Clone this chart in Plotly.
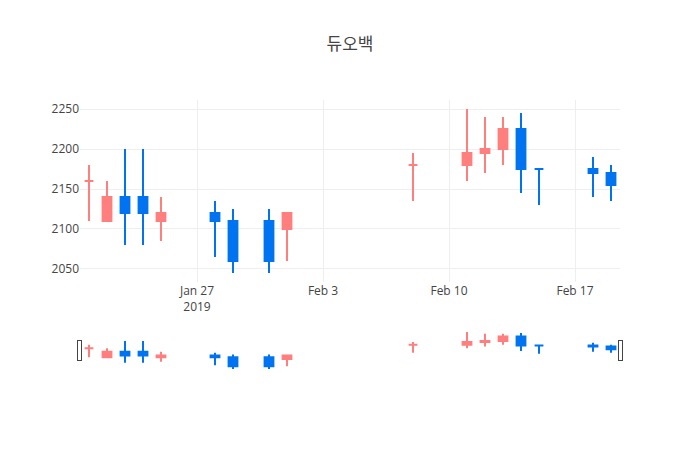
import plotly.graph_objects as go

dates = ["2019-01-21", "2019-01-22", "2019-01-23", "2019-01-24", "2019-01-25",
         "2019-01-28", "2019-01-29", "2019-01-31", "2019-02-01",
         "2019-02-08", "2019-02-11", "2019-02-12", "2019-02-13", "2019-02-14",
         "2019-02-15", "2019-02-18", "2019-02-19"]
open_ = [2160, 2110, 2140, 2140, 2110, 2120, 2110, 2110, 2100,
         2180, 2180, 2195, 2200, 2225, 2175, 2175, 2170]
high = [2180, 2160, 2200, 2200, 2140, 2135, 2125, 2125, 2120,
        2195, 2250, 2240, 2240, 2245, 2175, 2190, 2180]
low = [2110, 2110, 2080, 2080, 2085, 2065, 2045, 2045, 2060,
       2135, 2160, 2170, 2180, 2145, 2130, 2140, 2135]
close = [2160, 2140, 2120, 2120, 2120, 2110, 2060, 2060, 2120,
         2180, 2195, 2200, 2225, 2175, 2175, 2170, 2155]

fig = go.Figure(go.Candlestick(
    x=dates, open=open_, high=high, low=low, close=close,
    increasing=dict(line=dict(color="#FF7F7F"), fillcolor="#FF7F7F"),
    decreasing=dict(line=dict(color="#0074F0"), fillcolor="#0074F0"),
))
fig.update_layout(
    template="none",
    width=700, height=450,
    title=dict(text="듀오백", x=0.5),
    font=dict(family="Open Sans, Noto Sans CJK KR, sans-serif"),
    showlegend=False,
    margin=dict(l=80, r=80, t=100, b=80),
    xaxis=dict(rangeslider=dict(visible=True), showgrid=True, gridcolor="#eee"),
    yaxis=dict(showgrid=True, gridcolor="#eee"),
)
fig.write_html("out.html")
